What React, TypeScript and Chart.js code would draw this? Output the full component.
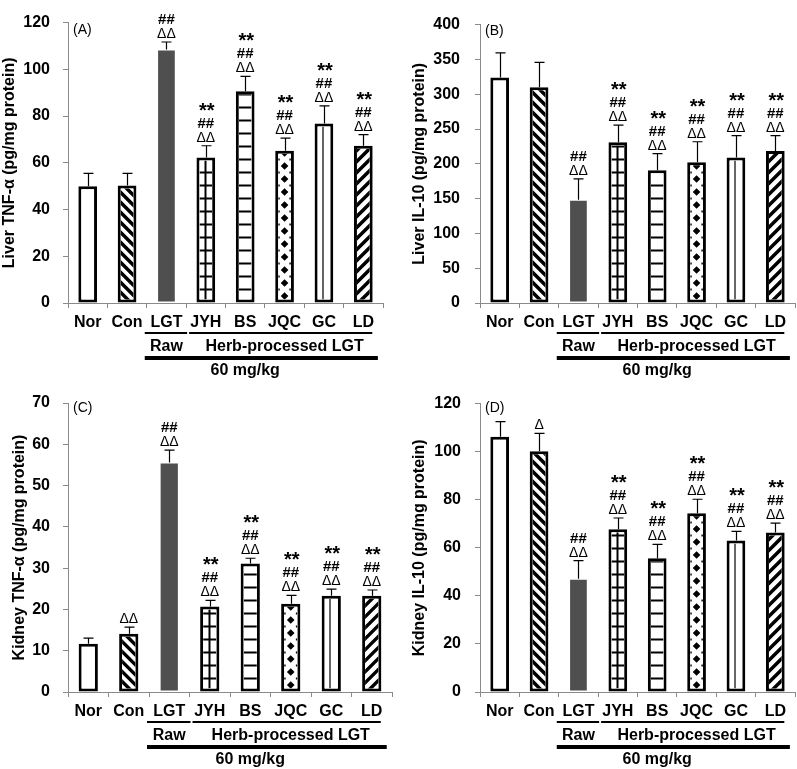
import React, { useEffect, useRef } from 'react';
import { Chart, registerables } from 'chart.js';

Chart.register(...registerables);

const FONT = "'Liberation Sans', Arial, Helvetica, sans-serif";

const CATEGORIES = ['Nor', 'Con', 'LGT', 'JYH', 'BS', 'JQC', 'GC', 'LD'];
const GROUP_RAW = 'Raw';
const GROUP_HERB = 'Herb-processed LGT';
const DOSE = '60 mg/kg';

// Panel A - Liver TNF-α
const A_TITLE = 'Liver TNF-α (pg/mg protein)';
const A_MEAN = [50, 50.3, 108.5, 62.3, 90.6, 65.2, 76.8, 67.3];
const A_ERR = [5.5, 5.2, 3.2, 5.0, 6.4, 5.4, 7.6, 4.8];
const A_MARKS = [[], [], ['##', 'ΔΔ'], ['**', '##', 'ΔΔ'], ['**', '##', 'ΔΔ'], ['**', '##', 'ΔΔ'], ['**', '##', 'ΔΔ'], ['**', '##', 'ΔΔ']];
const A_MAX = 120;
const A_STEP = 20;

// Panel B - Liver IL-10
const B_TITLE = 'Liver IL-10 (pg/mg protein)';
const B_MEAN = [324, 310, 148.5, 231, 190.8, 202.3, 209.2, 218.4];
const B_ERR = [35.5, 35.7, 29.9, 24.6, 23.9, 29.4, 31.3, 22.1];
const B_MARKS = [[], [], ['##', 'ΔΔ'], ['**', '##', 'ΔΔ'], ['**', '##', 'ΔΔ'], ['**', '##', 'ΔΔ'], ['**', '##', 'ΔΔ'], ['**', '##', 'ΔΔ']];
const B_MAX = 400;
const B_STEP = 50;

// Panel C - Kidney TNF-α
const C_TITLE = 'Kidney TNF-α (pg/mg protein)';
const C_MEAN = [11.7, 14.1, 55.6, 20.7, 31.1, 21.35, 23.3, 23.3];
const C_ERR = [1.35, 1.6, 3.0, 1.5, 1.3, 2.05, 1.6, 1.4];
const C_MARKS = [[], ['ΔΔ'], ['##', 'ΔΔ'], ['**', '##', 'ΔΔ'], ['**', '##', 'ΔΔ'], ['**', '##', 'ΔΔ'], ['**', '##', 'ΔΔ'], ['**', '##', 'ΔΔ']];
const C_MAX = 70;
const C_STEP = 10;

// Panel D - Kidney IL-10
const D_TITLE = 'Kidney IL-10 (pg/mg protein)';
const D_MEAN = [106.2, 100.2, 47.1, 67.7, 55.6, 74.4, 63, 66.4];
const D_ERR = [6.3, 7.4, 7.6, 4.7, 5.8, 5.8, 3.8, 3.9];
const D_MARKS = [[], ['Δ'], ['##', 'ΔΔ'], ['**', '##', 'ΔΔ'], ['**', '##', 'ΔΔ'], ['**', '##', 'ΔΔ'], ['**', '##', 'ΔΔ'], ['**', '##', 'ΔΔ']];
const D_MAX = 120;
const D_STEP = 20;

// fill style per category
const PATTERNS = ['none', 'back', 'solid', 'grid', 'hlines', 'diamond', 'vline', 'fwd'];
const SOLID_COLOR = '#4f4f4f';

const PANELS = [
  { tag: '(A)', title: A_TITLE, mean: A_MEAN, err: A_ERR, marks: A_MARKS, max: A_MAX, step: A_STEP,
    left: 0, top: 0, w: 398, h: 380, yWidth: 68, padTop: 13, padRight: 15, titlePad: 0, tickPad: 13, tagDy: 8 },
  { tag: '(B)', title: B_TITLE, mean: B_MEAN, err: B_ERR, marks: B_MARKS, max: B_MAX, step: B_STEP,
    left: 398, top: 0, w: 399, h: 380, yWidth: 82, padTop: 13, padRight: 2, titlePad: 12, tickPad: 15, tagDy: 7 },
  { tag: '(C)', title: C_TITLE, mean: C_MEAN, err: C_ERR, marks: C_MARKS, max: C_MAX, step: C_STEP,
    left: 0, top: 380, w: 398, h: 389, yWidth: 68, padTop: 23, padRight: 6, titlePad: 10, tickPad: 13, tagDy: 5 },
  { tag: '(D)', title: D_TITLE, mean: D_MEAN, err: D_ERR, marks: D_MARKS, max: D_MAX, step: D_STEP,
    left: 398, top: 380, w: 399, h: 389, yWidth: 82, padTop: 23, padRight: 2, titlePad: 12, tickPad: 14, tagDy: 5 },
];

const MARK_STYLE: Record<string, { font: string; dy: number; dx: number }> = {
  '**': { font: `bold 20px ${FONT}`, dy: 29, dx: 1 },
  '##': { font: `bold 15px ${FONT}`, dy: 18, dx: 0 },
  'ΔΔ': { font: `14px ${FONT}`, dy: 4, dx: 0 },
  'Δ': { font: `14px ${FONT}`, dy: 4, dx: 0 },
};

function drawPattern(ctx: CanvasRenderingContext2D, kind: string, l: number, t: number, r: number, b: number, base: number) {
  const w = r - l;
  ctx.strokeStyle = '#000';
  ctx.fillStyle = '#000';
  if (kind === 'back' || kind === 'fwd') {
    const period = kind === 'back' ? 10 : 11;
    ctx.lineWidth = 3.5;
    ctx.beginPath();
    if (kind === 'back') {
      for (let y0 = base + period; y0 > t - w - period; y0 -= period) {
        ctx.moveTo(l - 2, y0 - 2);
        ctx.lineTo(r + 2, y0 + w + 2);
      }
    } else {
      for (let y0 = base + w + period; y0 > t - period; y0 -= period) {
        ctx.moveTo(l - 2, y0 + 2);
        ctx.lineTo(r + 2, y0 - w - 2);
      }
    }
    ctx.stroke();
  } else if (kind === 'hlines' || kind === 'grid') {
    ctx.lineWidth = 2;
    ctx.beginPath();
    for (let y = base - 13; y > t; y -= 13) {
      ctx.moveTo(l, y);
      ctx.lineTo(r, y);
    }
    if (kind === 'grid') {
      const cx = Math.round((l + r) / 2) - 0.5;
      ctx.moveTo(cx, t);
      ctx.lineTo(cx, b);
    }
    ctx.stroke();
  } else if (kind === 'vline') {
    ctx.lineWidth = 1.5;
    ctx.strokeStyle = '#333';
    ctx.beginPath();
    const cx = Math.round((l + r) / 2) - 1;
    ctx.moveTo(cx, t);
    ctx.lineTo(cx, b);
    ctx.stroke();
  } else if (kind === 'diamond') {
    const cx = (l + r) / 2;
    const hs = 3.8;
    ctx.beginPath();
    for (let y = base - 6.5; y > t - hs; y -= 13) {
      ctx.moveTo(cx, y - hs);
      ctx.lineTo(cx + hs, y);
      ctx.lineTo(cx, y + hs);
      ctx.lineTo(cx - hs, y);
      ctx.closePath();
    }
    ctx.fill();
    ctx.beginPath();
    for (let y = base - 13; y > t; y -= 13) {
      ctx.rect(l, y - 1, 1.5, 2);
      ctx.rect(r - 1.5, y - 1, 1.5, 2);
    }
    ctx.fill();
  }
}

function makePlugin(panel: any) {
  return {
    id: 'extras',
    afterDatasetsDraw(chart: any) {
      const ctx: CanvasRenderingContext2D = chart.ctx;
      const meta = chart.getDatasetMeta(0);
      const xs = chart.scales.x;
      const ys = chart.scales.y;
      const area = chart.chartArea;

      // patterns
      meta.data.forEach((bar: any, i: number) => {
        const kind = PATTERNS[i];
        if (kind === 'none' || kind === 'solid') return;
        const p = bar.getProps(['x', 'y', 'base', 'width'], true);
        const bw = 3;
        const l = p.x - p.width / 2 + bw;
        const r = p.x + p.width / 2 - bw;
        const t = p.y + bw;
        const b = p.base - bw;
        if (b <= t) return;
        ctx.save();
        ctx.beginPath();
        ctx.rect(l, t, r - l, b - t);
        ctx.clip();
        drawPattern(ctx, kind, l, t, r, b, p.base);
        ctx.restore();
      });

      // error bars and significance marks
      meta.data.forEach((bar: any, i: number) => {
        const p = bar.getProps(['x', 'y'], true);
        const x = Math.round(p.x) + 0.5;
        const yTop = ys.getPixelForValue(panel.mean[i] + panel.err[i]);
        ctx.save();
        ctx.strokeStyle = '#000';
        ctx.lineWidth = 1.2;
        ctx.beginPath();
        ctx.moveTo(x, p.y);
        ctx.lineTo(x, yTop);
        ctx.moveTo(x - 5, yTop);
        ctx.lineTo(x + 5, yTop);
        ctx.stroke();

        const marks: string[] = panel.marks[i];
        ctx.fillStyle = '#000';
        ctx.textAlign = 'center';
        ctx.textBaseline = 'alphabetic';
        marks.forEach((m) => {
          const st = MARK_STYLE[m];
          ctx.font = st.font;
          ctx.fillText(m, p.x + st.dx, yTop - st.dy);
        });
        ctx.restore();
      });

      // panel tag
      ctx.save();
      ctx.fillStyle = '#000';
      ctx.font = `14px ${FONT}`;
      ctx.textAlign = 'left';
      ctx.textBaseline = 'middle';
      ctx.fillText(panel.tag, area.left + 5, area.top + panel.tagDy);

      // group brackets below the axis
      const c = (i: number) => xs.getPixelForValue(i);
      const catW = c(1) - c(0);
      const bottom = area.bottom;
      ctx.strokeStyle = '#000';
      ctx.lineWidth = 2;
      ctx.beginPath();
      ctx.moveTo(c(2) - catW / 2 - 2, bottom + 30);
      ctx.lineTo(c(2) + catW / 2 + 1, bottom + 30);
      ctx.moveTo(c(3) - catW / 2 + 3, bottom + 30);
      ctx.lineTo(c(7) + 9, bottom + 30);
      ctx.stroke();
      ctx.lineWidth = 4;
      ctx.beginPath();
      ctx.moveTo(c(2) - catW / 2 - 2, bottom + 55);
      ctx.lineTo(c(7) + catW * 0.37, bottom + 55);
      ctx.stroke();

      ctx.font = `bold 16px ${FONT}`;
      ctx.textAlign = 'center';
      ctx.textBaseline = 'middle';
      ctx.fillText(GROUP_RAW, c(2), bottom + 44);
      ctx.fillText(GROUP_HERB, c(5), bottom + 44);
      ctx.fillText(DOSE, c(4), bottom + 68);
      ctx.restore();
    },
  };
}

function Panel({ panel }: { panel: any }) {
  const ref = useRef<HTMLCanvasElement>(null);
  useEffect(() => {
    if (!ref.current) return;
    const chart = new Chart(ref.current, {
      type: 'bar',
      data: {
        labels: CATEGORIES,
        datasets: [
          {
            data: panel.mean,
            backgroundColor: PATTERNS.map((k) => (k === 'solid' ? SOLID_COLOR : '#ffffff')),
            borderColor: PATTERNS.map((k) => (k === 'solid' ? 'rgba(0,0,0,0)' : '#000000')),
            borderWidth: PATTERNS.map((k) => (k === 'solid' ? 1 : 3)),
            borderSkipped: false,
            barPercentage: 0.475,
            categoryPercentage: 1,
          } as any,
        ],
      },
      options: {
        animation: false,
        responsive: false,
        maintainAspectRatio: false,
        layout: { padding: { left: 0, top: panel.padTop, right: panel.padRight, bottom: 0 } },
        plugins: { legend: { display: false }, tooltip: { enabled: false } },
        scales: {
          x: {
            grid: { display: true, drawOnChartArea: false, drawTicks: true, tickLength: 5, color: '#8a8a8a', offset: true },
            border: { display: true, color: '#8a8a8a', width: 1 },
            ticks: { color: '#000', font: { family: FONT, size: 16, weight: 'bold' }, padding: 5, maxRotation: 0, autoSkip: false },
            afterFit: (s: any) => { s.height = 77; },
          },
          y: {
            min: 0,
            max: panel.max,
            grid: { display: true, drawOnChartArea: false, drawTicks: true, tickLength: 5, color: '#8a8a8a' },
            border: { display: true, color: '#8a8a8a', width: 1 },
            ticks: { stepSize: panel.step, color: '#000', font: { family: FONT, size: 16, weight: 'bold' }, padding: panel.tickPad },
            title: {
              display: true,
              text: panel.title,
              color: '#000',
              font: { family: FONT, size: 16, weight: 'bold' },
              padding: { top: panel.titlePad, bottom: 0 },
            },
            afterFit: (s: any) => { s.width = panel.yWidth; },
          },
        },
      } as any,
      plugins: [makePlugin(panel)],
    });
    return () => chart.destroy();
  }, [panel]);
  return (
    <canvas
      ref={ref}
      width={panel.w}
      height={panel.h}
      style={{ position: 'absolute', left: panel.left, top: panel.top, width: panel.w, height: panel.h }}
    />
  );
}

export default function App() {
  return (
    <div style={{ position: 'absolute', left: 0, top: 0, width: 797, height: 769, background: '#ffffff', overflow: 'hidden' }}>
      {PANELS.map((p) => (
        <Panel key={p.tag} panel={p} />
      ))}
    </div>
  );
}
